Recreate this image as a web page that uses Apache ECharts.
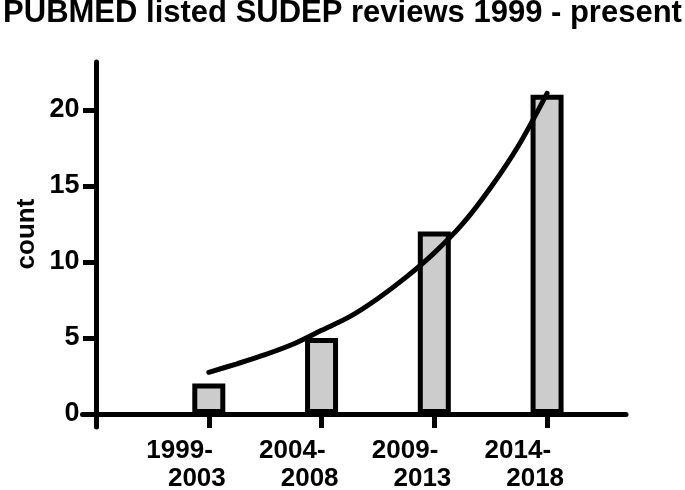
<!DOCTYPE html>
<html>
<head>
<meta charset="utf-8">
<script src="https://cdn.jsdelivr.net/npm/echarts@6/dist/echarts.min.js"></script>
<style>
html,body{margin:0;padding:0;background:#fff;}
#chart{width:685px;height:490px;}
</style>
</head>
<body>
<div id="chart"></div>
<script>
var titleText = 'PUBMED listed SUDEP reviews 1999 - present';
var yAxisName = 'count';
var categories = ['1999-\n2003', '2004-\n2008', '2009-\n2013', '2014-\n2018'];
var counts = [2, 5, 12, 21];
var yTicks = [0, 5, 10, 15, 20];
// trend curve, points: [position, count]
var curveX = [1.0, 1.25, 1.5, 1.75, 2.0, 2.25, 2.5, 2.75, 3.0, 3.25, 3.5, 3.75, 4.0];
var curveY = [2.74, 3.3, 3.9, 4.6, 5.5, 6.4, 7.6, 9.0, 10.6, 12.5, 14.9, 17.7, 21.1];

var positions = categories.map(function (c, i) { return i + 1; });
var barData = counts.map(function (v, i) { return [positions[i], v]; });
var curveData = curveX.map(function (x, i) { return [x, curveY[i]]; });
var FONT = 'Liberation Sans';

var chart = echarts.init(document.getElementById('chart'), null, {renderer: 'canvas'});
chart.setOption({
  backgroundColor: '#ffffff',
  animation: false,
  title: {
    text: titleText,
    left: 'center',
    top: -2,
    padding: 0,
    textStyle: {fontFamily: FONT, fontWeight: 'bold', fontSize: 31, color: '#000'}
  },
  graphic: [{
    type: 'text',
    x: 27,
    y: 234,
    rotation: Math.PI / 2,
    style: {
      text: yAxisName,
      align: 'center',
      verticalAlign: 'middle',
      fontFamily: FONT, fontWeight: 'bold', fontSize: 26, fill: '#000'
    }
  }],
  grid: {left: 82.5, right: 59, top: 62, bottom: 63, containLabel: false, outerBoundsMode: 'none'},
  xAxis: {
    type: 'value',
    min: -0.12,
    max: 4.7,
    splitLine: {show: false},
    axisLine: {show: true, onZero: true, lineStyle: {color: '#000', width: 5}},
    axisTick: {show: true, length: 14, lineStyle: {color: '#000', width: 5}, customValues: [0].concat(positions)},
    axisLabel: {
      show: true,
      customValues: positions,
      margin: 10,
      align: 'right',
      padding: [0, -17, 0, 0],
      formatter: function (v) {
        var idx = Math.round(v) - 1;
        if (idx < 0 || idx >= categories.length) return '';
        var parts = categories[idx].split('\n');
        return '{a|' + parts[0] + '}\n{b|' + parts[1] + '}';
      },
      rich: {
        a: {fontFamily: FONT, fontWeight: 'bold', fontSize: 26, color: '#000', lineHeight: 28, align: 'right', padding: [0, 13, 0, 0]},
        b: {fontFamily: FONT, fontWeight: 'bold', fontSize: 26, color: '#000', lineHeight: 28, align: 'right'}
      }
    }
  },
  yAxis: {
    type: 'value',
    min: -0.86,
    max: 23.16,
    splitLine: {show: false},
    axisLine: {show: true, onZero: true, lineStyle: {color: '#000', width: 5}},
    axisTick: {show: true, length: 13, lineStyle: {color: '#000', width: 5}, customValues: yTicks},
    axisLabel: {
      show: true,
      customValues: yTicks,
      margin: 3,
      fontFamily: FONT, fontWeight: 'bold', fontSize: 27, color: '#000'
    }
  },
  series: [
    {
      type: 'bar',
      data: barData,
      barWidth: 33,
      itemStyle: {color: '#cccccc', borderColor: '#000', borderWidth: 5},
      z: 2
    },
    {
      type: 'line',
      data: curveData,
      smooth: 0.3,
      showSymbol: false,
      symbol: 'none',
      lineStyle: {color: '#000', width: 5, cap: 'round'},
      z: 3
    }
  ]
});
</script>
</body>
</html>
